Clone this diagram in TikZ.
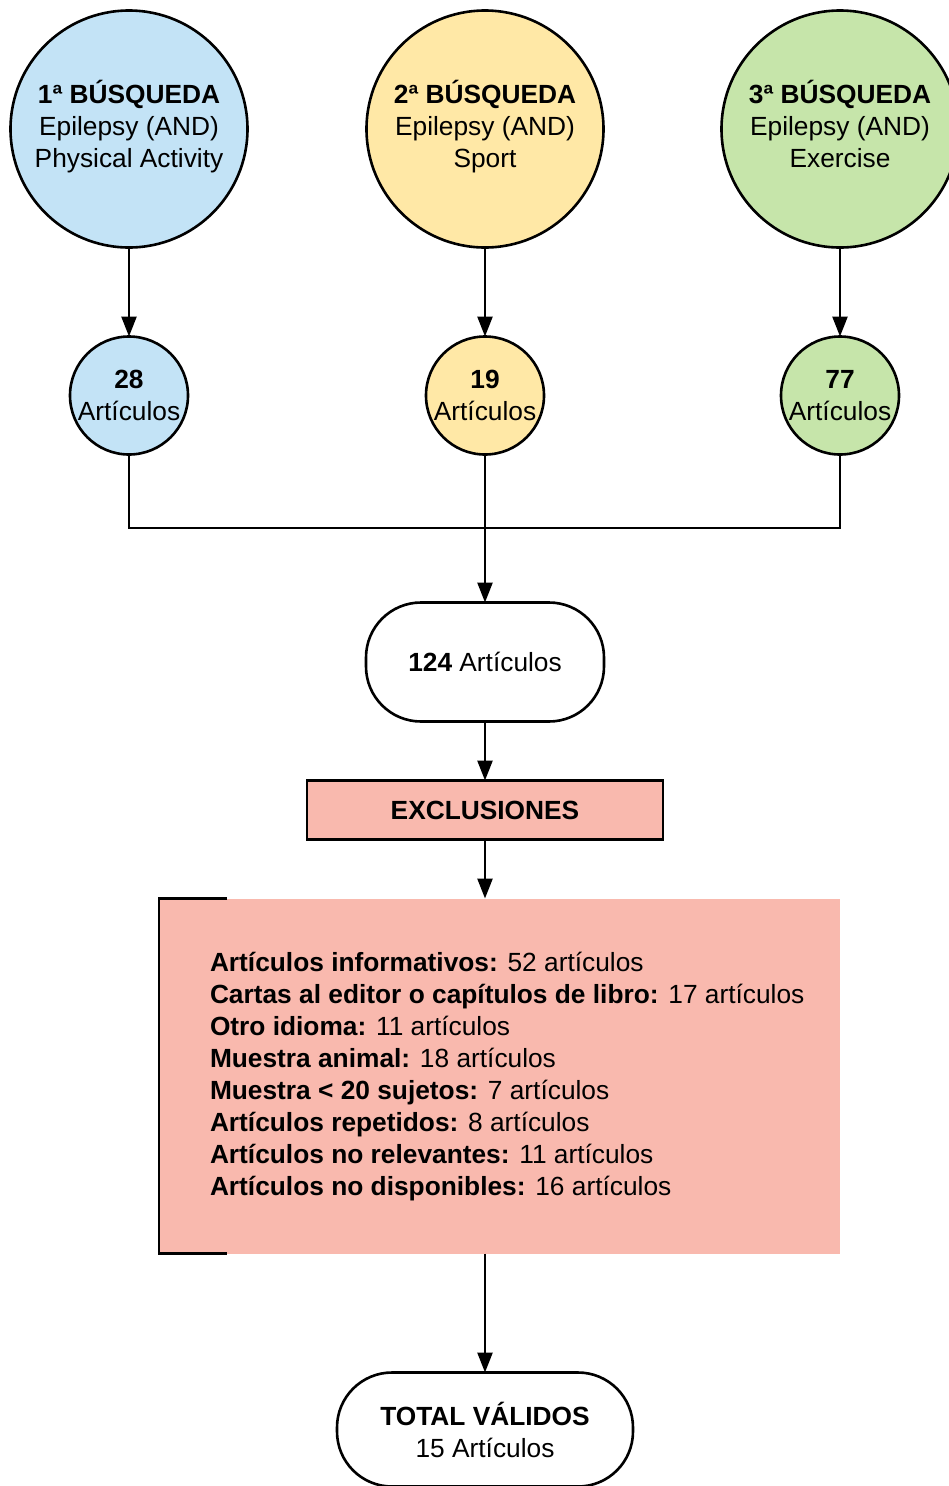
\documentclass[tikz,border=0pt]{standalone}
\usepackage{fontspec}
\setmainfont{Liberation Sans}
\usetikzlibrary{positioning,arrows.meta}
\definecolor{busqblue}{HTML}{C3E3F6}
\definecolor{busqyellow}{HTML}{FFE8A6}
\definecolor{busqgreen}{HTML}{C6E5AA}
\definecolor{exclred}{HTML}{F9B9AE}

\begin{document}
\begin{tikzpicture}[x=1pt, y=-1pt,
    every node/.style={font=\fontsize{26.3}{32}\selectfont, inner sep=0pt, outer sep=0pt},
    bigc/.style={circle, draw, line width=2.6pt, minimum size=237pt, align=center, text depth=10pt},
    smallc/.style={circle, draw, line width=2.6pt, minimum size=118pt, align=center},
    pill/.style={draw, line width=2.6pt, rounded corners=55pt, fill=white, align=center},
    arrow/.style={-{Triangle[length=20pt,width=15pt]}, line width=2.6pt},
    conn/.style={line width=2.6pt},
]
\useasboundingbox (0,0) rectangle (949,1486);

% three searches
\node[bigc, fill=busqblue] (b1) at (129,129) {\textbf{1ª BÚSQUEDA}\\Epilepsy (AND)\\Physical Activity};
\node[bigc, fill=busqyellow] (b2) at (485,129) {\textbf{2ª BÚSQUEDA}\\Epilepsy (AND)\\Sport};
\node[bigc, fill=busqgreen] (b3) at (840,129) {\textbf{3ª BÚSQUEDA}\\Epilepsy (AND)\\Exercise};

\node[smallc, fill=busqblue, below=89pt of b1] (s1) {\textbf{28}\\Artículos};
\node[smallc, fill=busqyellow, below=89pt of b2] (s2) {\textbf{19}\\Artículos};
\node[smallc, fill=busqgreen, below=89pt of b3] (s3) {\textbf{77}\\Artículos};
\draw[arrow] (b1) -- (s1); \draw[arrow] (b2) -- (s2); \draw[arrow] (b3) -- (s3);

% merge
\node[pill, minimum width=238pt, minimum height=119pt, below=148pt of s2] (n124) {\textbf{124} Artículos};
\coordinate (join) at (485,528);
\draw[conn] (s1) |- (join) -| (s3);
\draw[arrow] (s2) -- (n124);

% exclusions
\node[draw, fill=exclred, line width=2.6pt, minimum width=356pt, minimum height=59pt, below=59pt of n124] (head) {\textbf{EXCLUSIONES}};
\draw[arrow] (n124) -- (head);
\node[fill=exclred, minimum width=681pt, minimum height=355pt, below=59pt of head, xshift=14.5pt] (excl) {};
\draw[conn] ([xshift=68pt]excl.north west) -- (excl.north west) -- (excl.south west) -- ([xshift=68pt]excl.south west);
\node[anchor=west, align=left] (list) at ([xshift=51pt, yshift=-1pt]excl.west) {%
\textbf{Artículos informativos:} 52 artículos\\
\textbf{Cartas al editor o capítulos de libro:} 17 artículos\\
\textbf{Otro idioma:} 11 artículos\\
\textbf{Muestra animal:} 18 artículos\\
\textbf{Muestra < 20 sujetos:} 7 artículos\\
\textbf{Artículos repetidos:} 8 artículos\\
\textbf{Artículos no relevantes:} 11 artículos\\
\textbf{Artículos no disponibles:} 16 artículos};
\draw[arrow] (head) -- (head |- excl.north);

% result
\node[pill, minimum width=296pt, minimum height=114pt, below=119pt of excl, xshift=-14.5pt] (total) {\textbf{TOTAL VÁLIDOS}\\15 Artículos};
\draw[arrow] (excl.south -| total) -- (total);
\end{tikzpicture}
\end{document}
